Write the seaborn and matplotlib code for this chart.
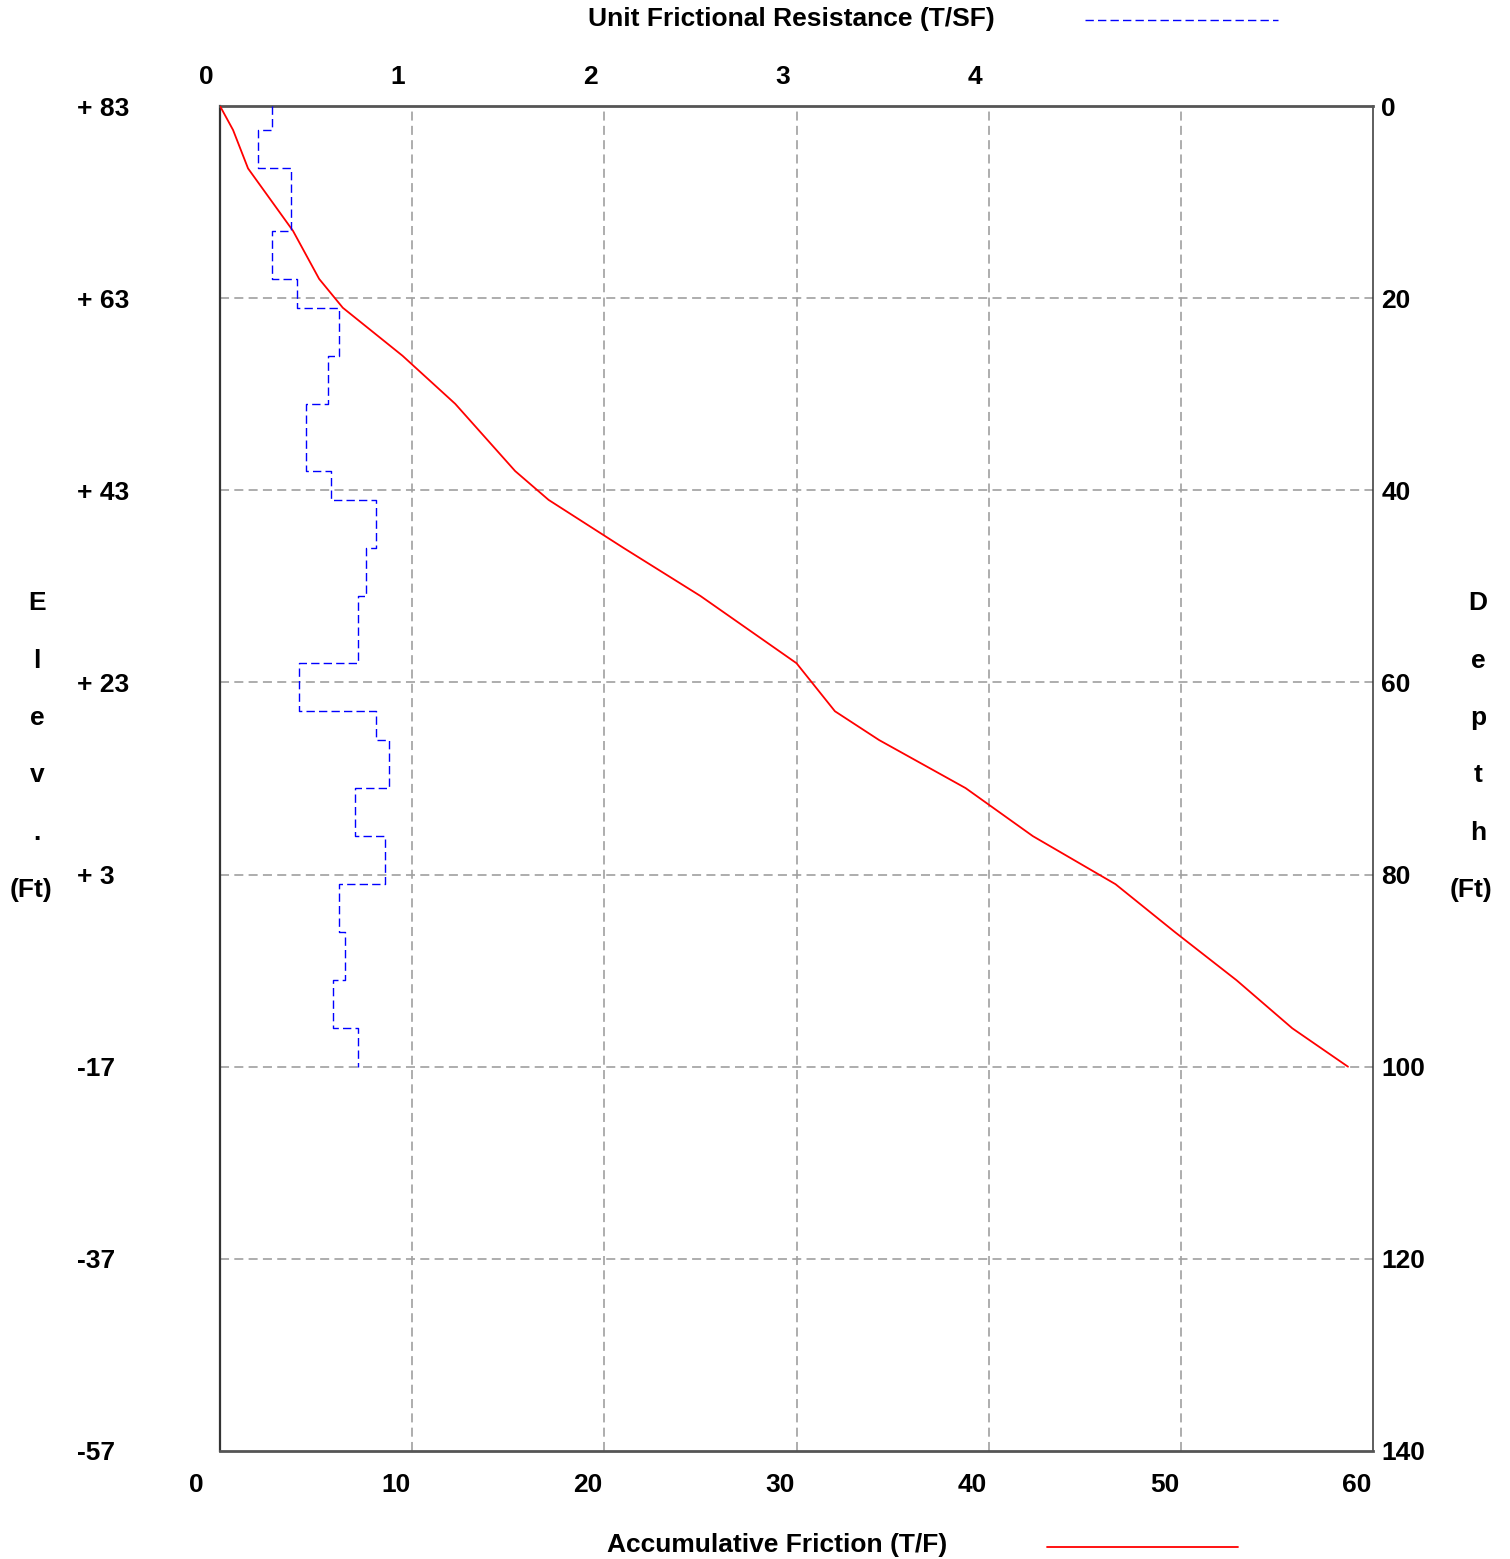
import matplotlib
matplotlib.use("Agg")
import matplotlib.pyplot as plt
import matplotlib.transforms as mtransforms
from matplotlib.lines import Line2D
import numpy as np
import pandas as pd
import seaborn as sns

# Layer boundaries along the pile (ft below top)
depth_breaks = [0, 2.5, 6.5, 13, 18, 21, 26, 31, 38, 41, 46, 51, 58, 63, 66,
                71, 76, 81, 86, 91, 96, 100]
# Unit frictional resistance within each layer (T/SF)
unit_friction = [0.27, 0.20, 0.37, 0.27, 0.40, 0.62, 0.56, 0.45, 0.58, 0.81,
                 0.76, 0.72, 0.41, 0.81, 0.88, 0.70, 0.86, 0.62, 0.65, 0.59, 0.72]
# Accumulated friction at each boundary (T)
accum_friction = [0, 0.68, 1.46, 3.8, 5.16, 6.39, 9.5, 12.24, 15.36, 17.1, 21.0,
                  25.0, 30.0, 32.0, 34.3, 38.8, 42.3, 46.6, 49.7, 52.9, 55.8, 58.7]

depth_ticks = [0, 20, 40, 60, 80, 100, 120, 140]
top_elev = 83
elev_labels = [f"+ {top_elev - d}" if top_elev - d > 0 else f"{top_elev - d}"
               for d in depth_ticks]
bottom_ticks = [0, 10, 20, 30, 40, 50, 60]
top_ticks = [0, 1, 2, 3, 4]

sns.set_theme(style="white")
plt.rcParams["font.family"] = ["Liberation Sans", "DejaVu Sans"]
plt.rcParams["font.weight"] = "bold"
plt.rcParams["text.color"] = "black"
plt.rcParams["xtick.color"] = "black"
plt.rcParams["ytick.color"] = "black"
plt.rcParams["lines.scale_dashes"] = False

W, H = 1510, 1559
fig = plt.figure(figsize=(W / 100, H / 100), dpi=100)
fig.patch.set_facecolor("white")
ax = fig.add_axes([220 / W, 1 - 1451 / H, (1373 - 220) / W, (1451 - 106) / H])
ax.set_facecolor("white")

# Staircase outline for the unit friction profile
step_x, step_y = [], []
for i, v in enumerate(unit_friction):
    step_x += [v, v]
    step_y += [depth_breaks[i], depth_breaks[i + 1]]
steps = pd.DataFrame({"unit": step_x, "depth": step_y})
accum = pd.DataFrame({"friction": accum_friction, "depth": depth_breaks})

grid_kw = dict(color="#a0a0a0", linewidth=1.2, linestyle=(0, (6.5, 3.8)))
for v in bottom_ticks[1:-1]:
    ax.axvline(v, **grid_kw, zorder=0)
for d in depth_ticks[1:-1]:
    ax.axhline(d, **grid_kw, zorder=0)

sns.lineplot(data=accum, x="friction", y="depth", sort=False, estimator=None,
             color="#ff0000", linewidth=1.3, ax=ax, zorder=3)

ax_top = ax.twiny()
sns.lineplot(data=steps, x="unit", y="depth", sort=False, estimator=None,
             color="#0000ff", linewidth=1.0, linestyle=(0, (6, 3)), ax=ax_top,
             zorder=3)
ax_right = ax.twinx()

ax.set_xlim(0, 60)
ax.set_ylim(140, 0)
ax_top.set_xlim(0, 6)
ax_right.set_ylim(140, 0)

for a in (ax, ax_top, ax_right):
    a.set_xlabel("")
    a.set_ylabel("")
    for s in a.spines.values():
        s.set_visible(False)

ax.spines["left"].set_visible(True)
ax.spines["left"].set_color("#333333")
ax.spines["left"].set_linewidth(1.6)
ax.spines["right"].set_visible(True)
ax.spines["right"].set_color("#333333")
ax.spines["right"].set_linewidth(1.1)
for side in ("top", "bottom"):
    ax.spines[side].set_visible(True)
    ax.spines[side].set_color("#555555")
    ax.spines[side].set_linewidth(2.0)

fs = 19
# Bottom axis: accumulated friction
ax.set_xticks(bottom_ticks)
ax.set_xticklabels([str(t) for t in bottom_ticks], fontsize=fs, fontweight="bold",
                   ha="left")
ax.tick_params(axis="x", length=0, pad=15.5)
shift = mtransforms.ScaledTranslation(-31 / 100, 0, fig.dpi_scale_trans)
for lbl in ax.get_xticklabels():
    lbl.set_transform(lbl.get_transform() + shift)

# Left axis: elevation
ax.set_yticks(depth_ticks)
ax.set_yticklabels(elev_labels, fontsize=fs, fontweight="bold", ha="left")
ax.tick_params(axis="y", length=0, pad=(220 - 77) * 0.72)

# Top axis: unit friction
ax_top.set_xticks(top_ticks)
ax_top.set_xticklabels([str(t) for t in top_ticks], fontsize=fs, fontweight="bold",
                       ha="left")
ax_top.tick_params(axis="x", length=0, pad=12.5)
shift_top = mtransforms.ScaledTranslation(-21.5 / 100, 0, fig.dpi_scale_trans)
for lbl in ax_top.get_xticklabels():
    lbl.set_transform(lbl.get_transform() + shift_top)

# Right axis: depth
ax_right.set_yticks(depth_ticks)
ax_right.set_yticklabels([str(d) for d in depth_ticks], fontsize=fs, fontweight="bold")
ax_right.tick_params(axis="y", length=0, pad=6)

# Axis titles and their line keys
fig.text(791 / W, 1 - 19 / H, "Unit Frictional Resistance (T/SF)", fontsize=fs,
         fontweight="bold", ha="center", va="center")
fig.add_artist(Line2D([1085 / W, 1278 / W], [1 - 20 / H, 1 - 20 / H],
                      color="#0000ff", linewidth=1.0, linestyle=(0, (6, 3))))
fig.text(777 / W, 1 - 1545 / H, "Accumulative Friction (T/F)", fontsize=fs,
         fontweight="bold", ha="center", va="center")
fig.add_artist(Line2D([1047 / W, 1238 / W], [1 - 1547 / H, 1 - 1547 / H],
                      color="#ff0000", linewidth=1.3))

# Vertical, letter-stacked side titles
left_letters = ["E", "l", "e", "v", "."]
right_letters = ["D", "e", "p", "t", "h"]
for i, (lc, rc) in enumerate(zip(left_letters, right_letters)):
    y = 1 - (603 + 57.5 * i) / H
    fig.text(37 / W, y, lc, fontsize=fs, fontweight="bold", ha="center", va="center")
    fig.text(1478 / W, y, rc, fontsize=fs, fontweight="bold", ha="center", va="center")
fig.text(31 / W, 1 - 890 / H, "(Ft)", fontsize=fs, fontweight="bold",
         ha="center", va="center")
fig.text(1471 / W, 1 - 890 / H, "(Ft)", fontsize=fs, fontweight="bold",
         ha="center", va="center")

fig.savefig("out.png", dpi=100, facecolor="white")
